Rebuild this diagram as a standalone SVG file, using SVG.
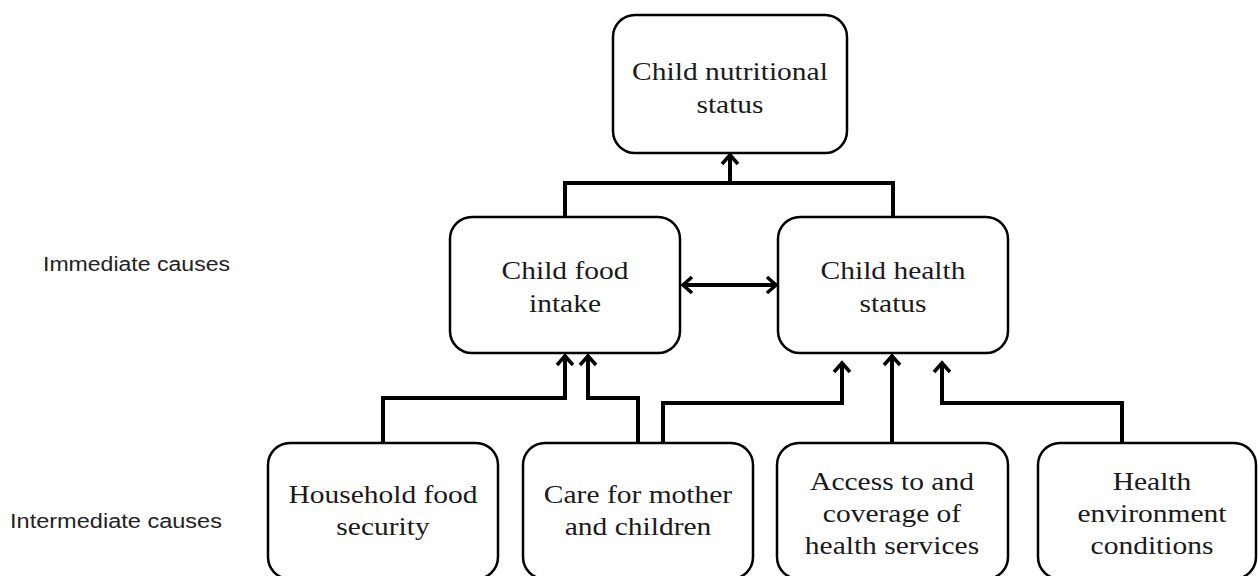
<svg xmlns="http://www.w3.org/2000/svg" width="1258" height="576" viewBox="0 0 1258 576">
<style>
.box{fill:#fff;stroke:#000;stroke-width:2.5}
.t{font-family:"Liberation Serif","Times New Roman",serif;font-size:25px;fill:#1a1a1a;text-anchor:middle}
.lab{font-family:"Liberation Sans",Arial,sans-serif;font-size:20px;fill:#222}
.c{fill:none;stroke:#000;stroke-width:4;stroke-linejoin:miter}
</style>
<defs>
<marker id="ah" markerUnits="userSpaceOnUse" markerWidth="30" markerHeight="30" viewBox="-15 -15 30 30" refX="0" refY="0" orient="auto-start-reverse" overflow="visible">
<path d="M-10,-8 L-1,0 L-10,8" fill="none" stroke="#000" stroke-width="3.5"/>
</marker>
</defs>
<rect width="1258" height="576" fill="#fff"/>
<text class="lab" x="43" y="271" textLength="187" lengthAdjust="spacingAndGlyphs">Immediate causes</text>
<text class="lab" x="10" y="528" textLength="212" lengthAdjust="spacingAndGlyphs">Intermediate causes</text>
<g id="connectors">
<path class="c" d="M565,217 V183 H893 V217"/>
<path class="c" d="M730,183 V154" marker-end="url(#ah)"/>
<path class="c" d="M682,285 H777" marker-start="url(#ah)" marker-end="url(#ah)"/>
<path class="c" d="M383,443 V398 H565 V355" marker-end="url(#ah)"/>
<path class="c" d="M638,443 V398 H588 V355" marker-end="url(#ah)"/>
<path class="c" d="M663,443 V403 H842 V362" marker-end="url(#ah)"/>
<path class="c" d="M892,443 V355" marker-end="url(#ah)"/>
<path class="c" d="M1122,443 V403 H942 V362" marker-end="url(#ah)"/>
</g>
<g id="nutritional">
<rect class="box" x="613" y="15" width="234" height="138" rx="22"/>
<text class="t" transform="translate(730,0) scale(1.18,1)"><tspan x="0" y="80">Child nutritional</tspan><tspan x="0" y="113">status</tspan></text>
</g>
<g id="food-intake">
<rect class="box" x="450" y="217" width="230" height="136" rx="22"/>
<text class="t" transform="translate(565,0) scale(1.18,1)"><tspan x="0" y="279">Child food</tspan><tspan x="0" y="312">intake</tspan></text>
</g>
<g id="health-status">
<rect class="box" x="778" y="217" width="230" height="136" rx="22"/>
<text class="t" transform="translate(893,0) scale(1.18,1)"><tspan x="0" y="279">Child health</tspan><tspan x="0" y="312">status</tspan></text>
</g>
<g id="food-security">
<rect class="box" x="268" y="443" width="230" height="136" rx="22"/>
<text class="t" transform="translate(383,0) scale(1.18,1)"><tspan x="0" y="503">Household food</tspan><tspan x="0" y="535">security</tspan></text>
</g>
<g id="care">
<rect class="box" x="523" y="443" width="230" height="136" rx="22"/>
<text class="t" transform="translate(638,0) scale(1.18,1)"><tspan x="0" y="503">Care for mother</tspan><tspan x="0" y="535">and children</tspan></text>
</g>
<g id="health-services">
<rect class="box" x="777" y="443" width="231" height="136" rx="22"/>
<text class="t" transform="translate(892,0) scale(1.18,1)"><tspan x="0" y="490">Access to and</tspan><tspan x="0" y="522">coverage of</tspan><tspan x="0" y="554">health services</tspan></text>
</g>
<g id="environment">
<rect class="box" x="1038" y="443" width="218" height="136" rx="22"/>
<text class="t" transform="translate(1152,0) scale(1.18,1)"><tspan x="0" y="490">Health</tspan><tspan x="0" y="522">environment</tspan><tspan x="0" y="554">conditions</tspan></text>
</g>
</svg>
